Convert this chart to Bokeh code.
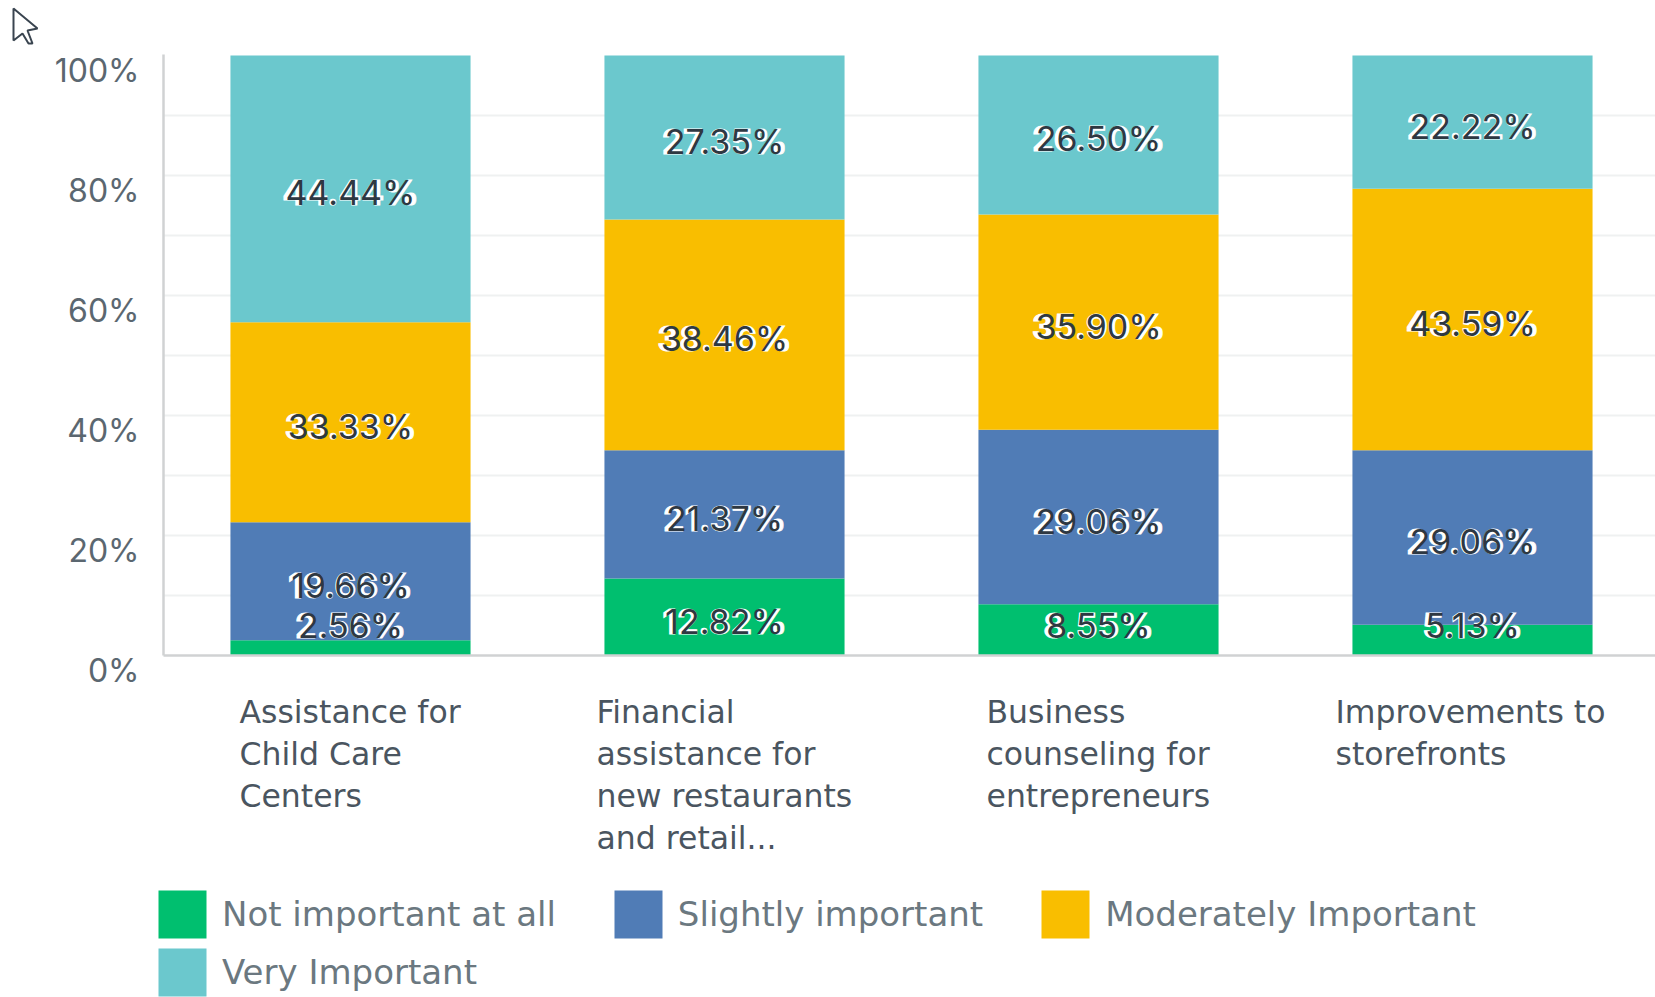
from bokeh.plotting import figure
from bokeh.models import Legend, LegendItem, Range1d, FixedTicker, PolyAnnotation, Grid
from bokeh.core.properties import value
from bokeh.embed import file_html
from bokeh.resources import INLINE

categories = ["Assistance for\nChild Care\nCenters",
              "Financial\nassistance for\nnew restaurants\nand retail...",
              "Business\ncounseling for\nentrepreneurs",
              "Improvements to\nstorefronts"]
not_important = [2.56, 12.82, 8.55, 5.13]
slightly = [19.66, 21.37, 29.06, 29.06]
moderately = [33.33, 38.46, 35.90, 43.59]
very = [44.44, 27.35, 26.50, 22.22]
y_ticks = [0, 20, 40, 60, 80, 100]
series_names = ["Not important at all", "Slightly important", "Moderately Important", "Very Important"]
colors = ["#00BF6F", "#507CB6", "#F9BE00", "#6BC8CD"]
series = [not_important, slightly, moderately, very]

AX_X = -187 / 374
X_END = 1305 / 374
p = figure(width=1655, height=997, output_backend="svg", toolbar_location=None,
           x_range=Range1d(-350 / 374, X_END), y_range=Range1d(-342 / 6, 655 / 6),
           x_axis_location=None, y_axis_location=None,
           min_border=0, outline_line_color=None,
           background_fill_color="white", border_fill_color="white")
p.center = []
p.add_layout(Grid(dimension=1, ticker=FixedTicker(ticks=[10, 20, 30, 40, 50, 60, 70, 80, 90]),
                  grid_line_color="#EFF1F1", grid_line_width=2, cross_bounds=(AX_X, X_END)))

xs = list(range(len(categories)))
bottoms = [0.0] * 4
lab_x, lab_y, lab_t = [], [], []
items = []
for name, col, vals in zip(series_names, colors, series):
    tops = [b + v for b, v in zip(bottoms, vals)]
    r = p.vbar(x=xs, bottom=bottoms, top=tops, width=0.642, fill_color=col, line_color=None)
    items.append(LegendItem(label=name, renderers=[r]))
    for x, b, v in zip(xs, bottoms, vals):
        lab_x.append(x)
        lab_y.append(max(b + v / 2, 5.75))
        lab_t.append(f"{v:.2f}%")
    bottoms = tops

p.segment(x0=[AX_X, AX_X], y0=[0, 0], x1=[AX_X, X_END], y1=[100.17, 0], line_color="#D0D2D3", line_width=2.5)

label_style = dict(x=lab_x, y=lab_y, text=lab_t, text_align="center", text_baseline="middle",
                   text_font=value("Inter"), text_font_size="34px", y_offset=4)
# white halo underneath, dark text on top
p.text(text_color="white", text_outline_color="white", text_font_style="bold", **label_style)
p.text(text_color="#2E3842", **label_style)

p.text(x=[AX_X] * len(y_ticks), y=y_ticks, text=[f"{t}%" for t in y_ticks], x_offset=-24, y_offset=15,
       text_align="right", text_baseline="middle", text_font=value("Inter"),
       text_font_size="32px", text_color="#5B6770")

left_offsets = [-111, -128, -112, -137]
cx, cy, ct, co, cyo = [], [], [], [], []
for i, c in enumerate(categories):
    for j, line in enumerate(c.split("\n")):
        cx.append(i); cy.append(0); ct.append(line); co.append(left_offsets[i]); cyo.append(56 + 42 * j)
p.text(x=cx, y=cy, text=ct, x_offset=co, y_offset=cyo, text_align="left", text_baseline="middle",
       text_font=value("DejaVu Sans"), text_font_size="31.5px", text_color="#4A5560")

common = dict(orientation="horizontal", glyph_width=60, glyph_height=60, label_standoff=10, spacing=52,
              margin=0, padding=0, border_line_color=None, background_fill_color=None,
              label_text_font="DejaVu Sans", label_text_font_size="34px", label_text_color="#6B7880",
              label_height=60)
p.add_layout(Legend(items=items[:3], location=(152, 53), **common), "center")
p.add_layout(Legend(items=items[3:], location=(152, -5), **common), "center")

cur_x = [13, 13, 22, 28, 32, 27, 37]
cur_y = [8, 40, 33, 43, 43, 30, 28]
p.add_layout(PolyAnnotation(xs=cur_x, ys=[997 - y for y in cur_y],
                            xs_units="screen", ys_units="screen", fill_color="white", fill_alpha=1,
                            line_color="#3A4550", line_alpha=1, line_width=2))

open("out.html", "w").write(file_html(p, INLINE))
